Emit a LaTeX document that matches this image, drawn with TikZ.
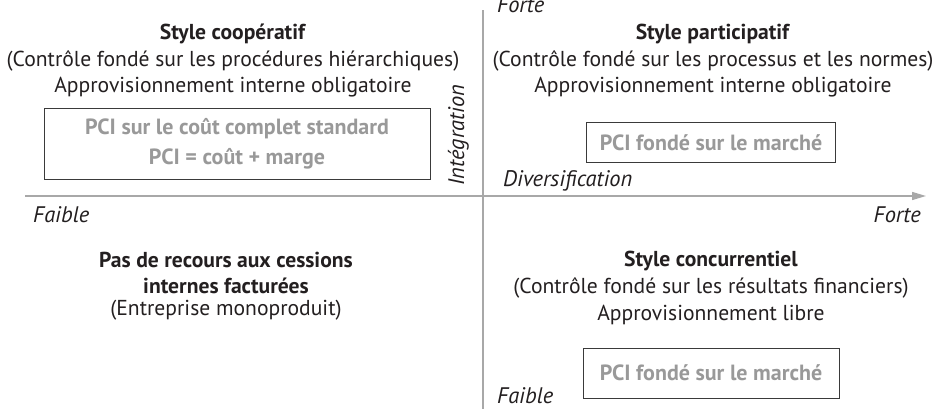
\documentclass[tikz,border=0pt]{standalone}
\usepackage{fontspec}
\setmainfont{PT Sans}
\usetikzlibrary{arrows.meta,positioning}
\definecolor{ink}{HTML}{231F20}
\definecolor{pcigray}{HTML}{999999}
\definecolor{boxline}{HTML}{3A3A3A}
\definecolor{axisgray}{HTML}{A8A8A8}

\begin{document}
\begin{tikzpicture}[x=1pt,y=-1pt,
    quad/.style={align=center,font=\fontsize{21.6}{26.5}\selectfont,text=ink,inner sep=0pt,anchor=base},
    pci/.style={draw=boxline,line width=1pt,text=pcigray,align=center,
      font=\fontsize{22}{30}\selectfont\bfseries,inner sep=0pt},
    axis/.style={draw=axisgray,line width=1.5pt},
    lbl/.style={font=\fontsize{22.5}{24}\selectfont\itshape,text=ink,inner sep=0pt}
  ]
    \useasboundingbox (0,0) rectangle (937,409);
    % axes
    \coordinate (ytop) at (483,10);
    \coordinate (ybot) at (483,409);
    \coordinate (xleft) at (25,196);
    \coordinate (xright) at (926,196);
    \draw[axis] (ybot) -- (ytop);
    \draw[axis,-{Triangle[length=14pt,width=8pt]}] (xleft) -- (xright);
    \node[lbl,anchor=base west] (forteY) at (497,13) {Forte};
    \node[lbl,anchor=base west] (faibleY) at (497,403) {Faible};
    \node[lbl,anchor=base west] (faibleX) at (33,222) {Faible};
    \node[lbl,anchor=base east] (forteX) at (921,222) {Forte};
    \node[lbl,anchor=base west] (divers) at (503,186) {Diversification};
    \node[lbl,rotate=90,anchor=base] (integ) at (464,135) {Intégration};
    % quadrants
    \node[quad] (coop) at (233,93) {\textbf{Style coopératif}\\
      (Contrôle fondé sur les procédures hiérarchiques)\\
      Approvisionnement interne obligatoire};
    \node[pci,minimum width=386pt,minimum height=70pt] (pciCout) at (237,144)
      {PCI sur le coût complet standard\\PCI = coût + marge};
    \node[quad] (partic) at (713,93) {\textbf{Style participatif}\\
      (Contrôle fondé sur les processus et les normes)\\
      Approvisionnement interne obligatoire};
    \node[pci,minimum width=249pt,minimum height=40pt] (pciMarcheA) at (711,143)
      {PCI fondé sur le marché};
    \node[quad] (aucun) at (226,315) {\textbf{Pas de recours aux cessions}\\
      \textbf{internes facturées}\\[-5pt](Entreprise monoproduit)};
    \node[quad] (concur) at (711,320) {\textbf{Style concurrentiel}\\[1pt]
      (Contrôle fondé sur les résultats financiers)\\
      Approvisionnement libre};
    \node[pci,minimum width=256pt,minimum height=50pt] (pciMarcheB) at (711,373)
      {PCI fondé sur le marché};
  \end{tikzpicture}
\end{document}
